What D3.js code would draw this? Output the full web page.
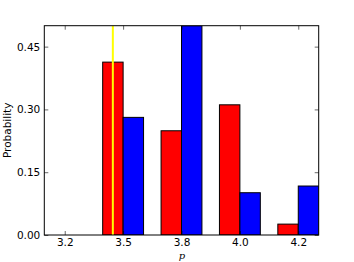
<!DOCTYPE html>
<html>
<head>
<meta charset="utf-8">
<script src="https://cdn.jsdelivr.net/npm/d3@7"></script>
<style>
  body { margin: 0; background: #fff; }
  svg { display: block; }
  .tick text { font-family: "DejaVu Sans", sans-serif; font-size: 10.5px; fill: #000; }
</style>
</head>
<body>
<svg id="chart" width="354" height="262"></svg>
<script>
// data
const groups = [3.25, 3.5, 3.75, 4.0, 4.25];
const redValues = [0, 0.413, 0.249, 0.311, 0.026];
const blueValues = [0, 0.281, 0.5, 0.101, 0.117];
const xTickLabels = ['3.2', '3.5', '3.8', '4.0', '4.2'];
const yTicks = [0, 0.15, 0.30, 0.45];
const markerX = 3.456;

const barWidth = 0.0875;
const margin = { top: 25.7, right: 35.3, bottom: 27, left: 44.3 };
const width = 354 - margin.left - margin.right;
const height = 262 - margin.top - margin.bottom;

const svg = d3.select('#chart');
const g = svg.append('g').attr('transform', `translate(${margin.left},${margin.top})`);

const x = d3.scaleLinear()
    .domain([groups[0] - barWidth, groups[groups.length - 1] + barWidth])
    .range([0, width]);
const y = d3.scaleLinear().domain([0, 0.5]).range([height, 0]);

svg.append('defs').append('clipPath').attr('id', 'clip')
    .append('rect').attr('width', width).attr('height', height);

const plot = g.append('g').attr('clip-path', 'url(#clip)');

// red bars sit left of the group position, blue to the right
const bars = [];
groups.forEach((p, i) => {
    bars.push({ x0: p - barWidth, v: redValues[i], color: '#ff0000' });
    bars.push({ x0: p, v: blueValues[i], color: '#0000ff' });
});

plot.selectAll('.bar')
    .data(bars.filter(d => d.v > 0))
    .enter()
    .append('rect')
    .attr('class', 'bar')
    .attr('x', d => x(d.x0))
    .attr('y', d => y(d.v))
    .attr('width', d => x(d.x0 + barWidth) - x(d.x0))
    .attr('height', d => y(0) - y(d.v))
    .attr('fill', d => d.color)
    .attr('stroke', '#000')
    .attr('stroke-width', 1);

plot.append('line')
    .attr('x1', x(markerX)).attr('x2', x(markerX))
    .attr('y1', 0).attr('y2', height)
    .attr('stroke', '#ffff00')
    .attr('stroke-width', 2);

// axes, ticks pointing inward on all four sides
const fmtX = (d, i) => xTickLabels[i];
g.append('g').attr('transform', `translate(0,${height})`)
    .call(d3.axisBottom(x).tickValues(groups).tickFormat(fmtX).tickSizeInner(-4).tickSizeOuter(0).tickPadding(3.5));
g.append('g')
    .call(d3.axisTop(x).tickValues(groups).tickFormat('').tickSizeInner(-4).tickSizeOuter(0));
g.append('g')
    .call(d3.axisLeft(y).tickValues(yTicks).tickFormat(d3.format('.2f')).tickSizeInner(-4).tickSizeOuter(0).tickPadding(4));
g.append('g').attr('transform', `translate(${width},0)`)
    .call(d3.axisRight(y).tickValues(yTicks).tickFormat('').tickSizeInner(-4).tickSizeOuter(0));

g.selectAll('.domain').remove();
g.selectAll('.tick line').attr('stroke', '#000').attr('stroke-width', 0.6);

g.append('rect')
    .attr('width', width).attr('height', height)
    .attr('fill', 'none')
    .attr('stroke', '#000')
    .attr('stroke-width', 1);

svg.append('text')
    .attr('transform', `translate(11,${margin.top + height / 2}) rotate(-90)`)
    .attr('text-anchor', 'middle')
    .style('font-family', '"DejaVu Sans", sans-serif')
    .style('font-size', '10.5px')
    .text('Probability');

svg.append('text')
    .attr('x', margin.left + width / 2 + 0.5)
    .attr('y', 259)
    .attr('text-anchor', 'middle')
    .style('font-family', '"DejaVu Serif", serif')
    .style('font-style', 'italic')
    .style('font-size', '10px')
    .text('p');
</script>
</body>
</html>
